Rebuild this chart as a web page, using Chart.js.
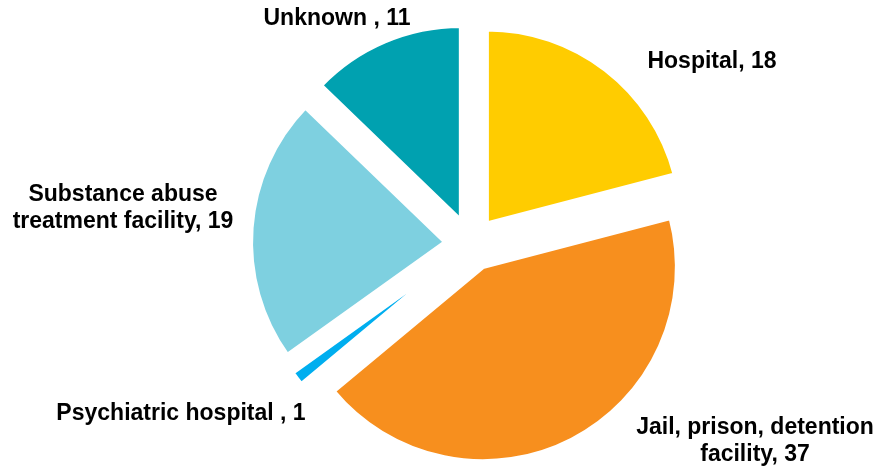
<!DOCTYPE html>
<html>
<head>
<meta charset="utf-8">
<script src="https://cdn.jsdelivr.net/npm/chart.js@4/dist/chart.umd.min.js"></script>
<style>
    html, body { margin: 0; padding: 0; background: #fff; }
    #wrap { width: 880px; height: 470px; }
</style>
</head>
<body>
<div id="wrap"><canvas id="pieChart" width="880" height="470"></canvas></div>
<script>
// Chart data
const categories = [
    ['Hospital'],
    ['Jail, prison, detention', 'facility'],
    ['Psychiatric hospital '],
    ['Substance abuse', 'treatment facility'],
    ['Unknown ']
];
const counts = [18, 37, 1, 19, 11];
const sliceColors = ['#FFCC00', '#F78F1E', '#00AEEF', '#7ED0E0', '#00A1B0'];

// where each label block is centred (x, y of first line)
const labelSpots = [
    [712, 62],
    [755, 428],
    [181, 414],
    [123, 195],
    [337, 19]
];

// Chart.js' own offset also stretches/narrows the arcs, so shift them plainly instead
const explode = {
    id: 'explode',
    beforeDatasetDraw(chart, args, opts) {
        const ctx = chart.ctx;
        args.meta.data.forEach(arc => {
            const mid = (arc.startAngle + arc.endAngle) / 2;
            ctx.save();
            ctx.translate(Math.cos(mid) * opts.distance, Math.sin(mid) * opts.distance);
            arc.draw(ctx);
            ctx.restore();
        });
        return false;
    }
};

const outsideLabels = {
    id: 'outsideLabels',
    afterDraw(chart) {
        const ctx = chart.ctx;
        const labels = chart.data.labels;
        const values = chart.data.datasets[0].data;
        ctx.save();
        ctx.fillStyle = '#000';
        ctx.font = 'bold 23px "Liberation Sans", Arial, sans-serif';
        ctx.textAlign = 'center';
        ctx.textBaseline = 'middle';
        labels.forEach((lines, i) => {
            const text = lines.slice();
            text[text.length - 1] = text[text.length - 1] + ', ' + values[i];
            const [x, y] = labelSpots[i];
            text.forEach((line, j) => {
                ctx.fillText(line, x, y + j * 27);
            });
        });
        ctx.restore();
    }
};

new Chart(document.getElementById('pieChart'), {
    type: 'pie',
    data: {
        labels: categories,
        datasets: [{
            data: counts,
            backgroundColor: sliceColors,
            borderColor: '#fff',
            borderWidth: 4,
            hoverOffset: 0
        }]
    },
    options: {
        responsive: false,
        animation: false,
        radius: 194,
        layout: {
            padding: { left: 262, right: 200, top: 35, bottom: 17 }
        },
        plugins: {
            legend: { display: false },
            tooltip: { enabled: false },
            explode: { distance: 26 }
        }
    },
    plugins: [explode, outsideLabels]
});
</script>
</body>
</html>
